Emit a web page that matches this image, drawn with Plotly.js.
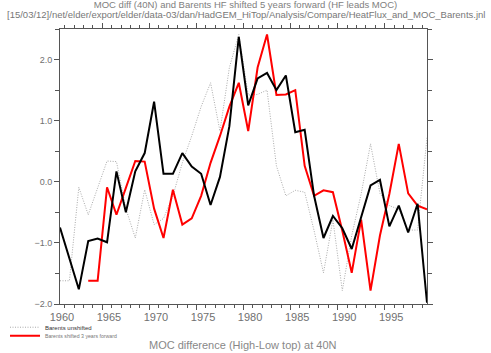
<!DOCTYPE html>
<html>
<head>
<meta charset="utf-8">
<script src="https://cdn.plot.ly/plotly-3.0.1.min.js"></script>
<style>html,body{margin:0;padding:0;background:#fff;}#chart{width:491px;height:353px;}</style>
</head>
<body>
<div id="chart"></div>
<script>
// Years (annual values plotted at mid-year)
const years = [1960.5,1961.5,1962.5,1963.5,1964.5,1965.5,1966.5,1967.5,1968.5,1969.5,
               1970.5,1971.5,1972.5,1973.5,1974.5,1975.5,1976.5,1977.5,1978.5,1979.5,
               1980.5,1981.5,1982.5,1983.5,1984.5,1985.5,1986.5,1987.5,1988.5,1989.5,
               1990.5,1991.5,1992.5,1993.5,1994.5,1995.5,1996.5,1997.5,1998.5,1999.5];

// MOC difference (High-Low top) at 40N
const mocDiff = [-0.75,-1.26,-1.76,-0.97,-0.93,-0.99,0.17,-0.50,0.17,0.47,
                 1.31,0.13,0.13,0.47,0.25,0.13,-0.38,0.08,0.91,2.37,
                 1.25,1.69,1.78,1.50,1.74,0.81,0.85,-0.23,-0.92,-0.56,
                 -0.76,-1.10,-0.60,-0.06,0.03,-0.73,-0.39,-0.83,-0.36,-1.98];

// Barents HF, unshifted
const barentsUnshifted = [-1.62,-1.62,-0.09,-0.54,-0.10,0.34,0.33,-0.44,-0.92,-0.13,
                          -0.70,-0.60,-0.23,0.31,0.75,1.23,1.62,0.83,1.87,2.41,
                          1.42,1.43,1.50,0.26,-0.23,-0.14,-0.17,-0.80,-1.49,-0.62,
                          -1.78,-0.88,-0.20,0.62,-0.19,-0.39,-0.45,-0.79,-0.79,0.72];

// Barents HF shifted 3 years forward
const shiftedYears = [1963.5,1964.5,1965.5,1966.5,1967.5,1968.5,1969.5,1970.5,1971.5,1972.5,
                      1973.5,1974.5,1975.5,1976.5,1977.5,1978.5,1979.5,1980.5,1981.5,1982.5,
                      1983.5,1984.5,1985.5,1986.5,1987.5,1988.5,1989.5,1990.5,1991.5,1992.5,
                      1993.5,1994.5,1995.5,1996.5,1997.5,1998.5,1999.5];
const barentsShifted = [-1.62,-1.62,-0.09,-0.54,-0.10,0.34,0.33,-0.44,-0.92,-0.13,
                        -0.70,-0.60,-0.23,0.31,0.75,1.23,1.62,0.83,1.87,2.41,
                        1.42,1.43,1.50,0.26,-0.23,-0.14,-0.17,-0.80,-1.49,-0.62,
                        -1.78,-0.88,-0.20,0.62,-0.19,-0.39,-0.45];

const labelYears = [1960,1965,1970,1975,1980,1985,1990,1995];

const axisCol = '#555';
const font = 'Liberation Sans, Arial, sans-serif';

const traces = [
  {x: years, y: barentsUnshifted, type: 'scatter', mode: 'lines', name: 'Barents unshifted',
   line: {color: '#aaaaaa', width: 1, dash: '1px,1.5px'}, legend: 'legend', showlegend: true},
  {x: shiftedYears, y: barentsShifted, type: 'scatter', mode: 'lines', name: 'Barents shifted 3 years forward',
   line: {color: '#ff0000', width: 2}, legend: 'legend2', showlegend: true},
  {x: years, y: mocDiff, type: 'scatter', mode: 'lines', name: 'MOC difference',
   line: {color: '#000000', width: 2}, showlegend: false},
  // carrier for the year-label axis (no visible marks)
  {x: labelYears, y: labelYears.map(() => null), xaxis: 'x2', yaxis: 'y', type: 'scatter', mode: 'lines',
   showlegend: false, hoverinfo: 'skip', line: {color: 'rgba(0,0,0,0)'}}
];

const layout = {
  width: 491, height: 353,
  margin: {l: 60, r: 64, t: 29, b: 49, pad: 0, autoexpand: false},
  paper_bgcolor: '#fff', plot_bgcolor: '#fff',
  font: {family: font, color: '#666'},
  title: {text: 'MOC diff (40N) and Barents HF shifted 5 years forward (HF leads MOC)',
          x: 0.5, xref: 'container', xanchor: 'center', y: 0.9867, yref: 'container', yanchor: 'middle',
          font: {family: font, size: 9.5, color: '#808080'}},
  xaxis: {range: [1960.5, 1999.5], showgrid: false, zeroline: false, automargin: false,
          showline: true, linecolor: axisCol, linewidth: 1, mirror: 'ticks',
          ticks: 'outside', tick0: 1960, dtick: 5, ticklen: 5, tickcolor: axisCol, tickwidth: 1,
          showticklabels: false,
          minor: {dtick: 1, ticks: 'outside', ticklen: 3, tickcolor: axisCol, tickwidth: 1, showgrid: false}},
  xaxis2: {overlaying: 'x', anchor: 'y', side: 'bottom', range: [1959.8, 1998.8], automargin: false,
           showgrid: false, zeroline: false, showline: false,
           tickmode: 'array', tickvals: labelYears, ticktext: labelYears.map(String),
           ticks: 'outside', ticklen: 3, tickcolor: 'rgba(0,0,0,0)',
           tickfont: {family: font, size: 11, color: '#707070'}},
  yaxis: {range: [-2, 2.5], showgrid: false, zeroline: false, automargin: false,
          showline: true, linecolor: axisCol, linewidth: 1, mirror: 'ticks',
          ticks: 'outside', tick0: 0, dtick: 1, ticklen: 5, tickcolor: axisCol, tickwidth: 1,
          tickformat: '.1f', tickfont: {family: font, size: 9, color: '#707070'},
          minor: {dtick: 0.5, ticks: 'outside', ticklen: 4, tickcolor: axisCol, tickwidth: 1, showgrid: false}},
  legend: {xref: 'container', yref: 'container', x: 0.0102, xanchor: 'left', y: 0.073, yanchor: 'middle',
           bgcolor: 'rgba(0,0,0,0)', borderwidth: 0, font: {family: font, size: 6, color: '#333'}, itemwidth: 30},
  legend2: {xref: 'container', yref: 'container', x: 0.0102, xanchor: 'left', y: 0.049, yanchor: 'middle',
            bgcolor: 'rgba(0,0,0,0)', borderwidth: 0, font: {family: font, size: 5.2, color: '#777'}, itemwidth: 30},
  annotations: [
    {text: '[15/03/12]/net/elder/export/elder/data-03/dan/HadGEM_HiTop/Analysis/Compare/HeatFlux_and_MOC_Barents.jnl',
     xref: 'paper', yref: 'paper', x: 0.506, y: 1.053, xanchor: 'center', yanchor: 'middle',
     showarrow: false, font: {family: font, size: 9.5, color: '#777'}},
    {text: 'MOC difference (High-Low top) at 40N',
     xref: 'paper', yref: 'paper', x: 0.498, y: -0.148, xanchor: 'center', yanchor: 'middle',
     showarrow: false, font: {family: font, size: 11, color: '#888'}}
  ]
};

Plotly.newPlot('chart', traces, layout, {displayModeBar: false, staticPlot: true});
</script>
</body>
</html>
